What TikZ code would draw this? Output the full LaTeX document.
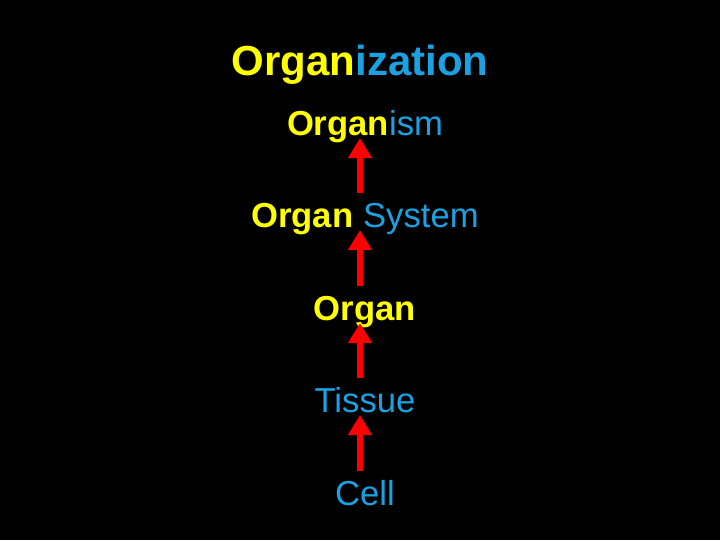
\documentclass[tikz,border=0pt]{standalone}
\usepackage{fontspec}
\setmainfont{Liberation Sans}
\usetikzlibrary{arrows.meta}
\definecolor{lvlyellow}{RGB}{255,255,0}
\definecolor{lvlblue}{RGB}{27,161,226}
\tikzstyle{level}=[anchor=base, inner sep=0pt, font=\fontsize{26}{31}\selectfont]
\tikzstyle{uparrow}=[draw=red, line width=4.5pt, -{Triangle[length=15pt,width=17pt]}]
\newcommand{\org}[1]{\textcolor{lvlyellow}{\bfseries #1}}
\newcommand{\lvl}[1]{\textcolor{lvlblue}{#1}}

\begin{document}
\begin{tikzpicture}[x=0.75pt,y=-0.75pt]
	\fill[black] (0,0) rectangle (720,540);

	\node[level, font=\fontsize{31.5}{37}\selectfont\bfseries](title) at (360,75){\org{Organ}\lvl{ization}};
	\node[level](organism) at (365,135){\org{Organ}\lvl{ism}};
	\node[level](system) at (365,227){\org{Organ} \lvl{System}};
	\node[level](organ) at (365,320){\org{Organ}};
	\node[level](tissue) at (365,412){\lvl{Tissue}};
	\node[level](cell) at (365,505){\lvl{Cell}};

	%arrows from each level to the one above
	\draw[uparrow] ([xshift=-3.75pt, yshift=25.5pt]cell.base) -- ([xshift=-3.75pt, yshift=-2.25pt]tissue.base);
	\draw[uparrow] ([xshift=-3.75pt, yshift=25.5pt]tissue.base) -- ([xshift=-3.75pt, yshift=-2.25pt]organ.base);
	\draw[uparrow] ([xshift=-3.75pt, yshift=25.5pt]organ.base) -- ([xshift=-3.75pt, yshift=-2.25pt]system.base);
	\draw[uparrow] ([xshift=-3.75pt, yshift=25.5pt]system.base) -- ([xshift=-3.75pt, yshift=-2.25pt]organism.base);
\end{tikzpicture}
\end{document}
